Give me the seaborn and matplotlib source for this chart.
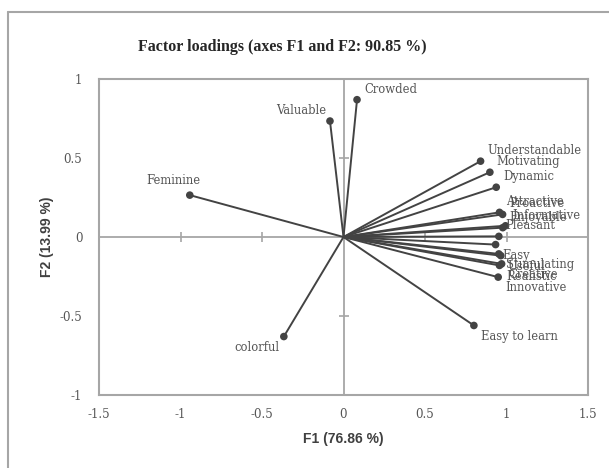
import matplotlib
matplotlib.use("Agg")
import matplotlib.pyplot as plt
import seaborn as sns
import pandas as pd
from matplotlib.lines import Line2D

# ---- data ----
variables = ["Understandable", "Motivating", "Dynamic", "Attractive", "Proactive",
             "Enjoyable", "Informative", "Pleasant", "Easy", "Stimulating", "Useful",
             "Creative", "Realistic", "Innovative", "Easy to learn",
             "Crowded", "Valuable", "Feminine", "colorful"]
f1 = [0.841, 0.898, 0.937, 0.957, 0.976, 0.977, 0.994, 0.953, 0.933, 0.953, 0.965,
      0.970, 0.957, 0.949, 0.800, 0.083, -0.083, -0.943, -0.366]
f2 = [0.480, 0.410, 0.315, 0.156, 0.143, 0.059, 0.071, 0.004, -0.048, -0.107, -0.118,
      -0.170, -0.180, -0.254, -0.560, 0.869, 0.734, 0.265, -0.630]
xticks = [-1.5, -1, -0.5, 0, 0.5, 1, 1.5]
yticks = [-1, -0.5, 0, 0.5, 1]
title = "Factor loadings (axes F1 and F2: 90.85 %)"
xlabel = "F1 (76.86 %)"
ylabel = "F2 (13.99 %)"

df = pd.DataFrame({"var": variables, "F1": f1, "F2": f2})

sns.set_style("white")
W, H = 609, 468
fig = plt.figure(figsize=(W / 100, H / 100), dpi=100)
ax = fig.add_axes([99 / W, 1 - 395 / H, (588 - 99) / W, (395 - 79) / H])

line_col = "#434343"
grid_col = "#a6a6a6"
text_col = "#555555"

# vectors from origin
for _, r in df.iterrows():
    ax.plot([0, r.F1], [0, r.F2], color=line_col, lw=1.4, zorder=3, solid_capstyle="round")
sns.scatterplot(data=df, x="F1", y="F2", ax=ax, color=line_col, s=30,
                edgecolor="none", zorder=4, legend=False)

# zero lines with small cross ticks
ax.axhline(0, color=grid_col, lw=1.3, zorder=1)
ax.axvline(0, color=grid_col, lw=1.3, zorder=1)
xt_in = [t for t in xticks if t not in (0, xticks[0], xticks[-1])]
yt_in = [t for t in yticks if t not in (0, yticks[0], yticks[-1])]
ax.plot(xt_in, [0] * len(xt_in), ls="none", marker="|", ms=7, mew=1.2, color=grid_col, zorder=1)
ax.plot([0] * len(yt_in), yt_in, ls="none", marker="_", ms=7, mew=1.2, color=grid_col, zorder=1)

# labels
special = {"Feminine": (-12, 6, "center", "bottom")}
for _, r in df.iterrows():
    if r["var"] in special:
        dx, dy, ha, va = special[r["var"]]
    else:
        dx = 5 if r.F1 > 0 else -3
        ha = "left" if r.F1 > 0 else "right"
        dy = 3 if r.F2 > 0 else -3
        va = "bottom" if r.F2 > 0 else "top"
    ax.annotate(r["var"], (r.F1, r.F2), xytext=(dx, dy), textcoords="offset points",
                ha=ha, va=va, fontsize=8.3, family="DejaVu Serif", color=text_col,
                zorder=5)

ax.set_xlim(xticks[0], xticks[-1])
ax.set_ylim(yticks[0], yticks[-1])
ax.set_xticks(xticks)
ax.set_yticks(yticks)
ax.set_xticklabels([f"{t:g}" for t in xticks], family="DejaVu Serif", fontsize=8.5, color=text_col)
ax.set_yticklabels([f"{t:g}" for t in yticks], family="DejaVu Serif", fontsize=8.5, color=text_col)
ax.tick_params(length=0, pad=9)
ax.tick_params(axis="y", pad=12)
for s in ax.spines.values():
    s.set_visible(True)
    s.set_color(grid_col)
    s.set_linewidth(1.5)
ax.set_xlabel(xlabel, family="Liberation Sans", fontweight="bold", fontsize=10,
              color="#404040", labelpad=8)
ax.set_ylabel(ylabel, family="Liberation Sans", fontweight="bold", fontsize=10,
              color="#404040", labelpad=4)
ax.set_facecolor("white")

fig.text(282 / W, 1 - 47 / H, title, ha="center", va="center", family="Liberation Serif",
         fontweight="bold", fontsize=11.5, color="#262626")

# outer chart frame (top and left edges visible)
fig.add_artist(Line2D([8 / W, 1.0], [1 - 12 / H, 1 - 12 / H], transform=fig.transFigure,
                      color=grid_col, lw=1.5))
fig.add_artist(Line2D([8 / W, 8 / W], [0.0, 1 - 12 / H], transform=fig.transFigure,
                      color=grid_col, lw=1.5))

fig.savefig("out.png", dpi=100, facecolor="white")
